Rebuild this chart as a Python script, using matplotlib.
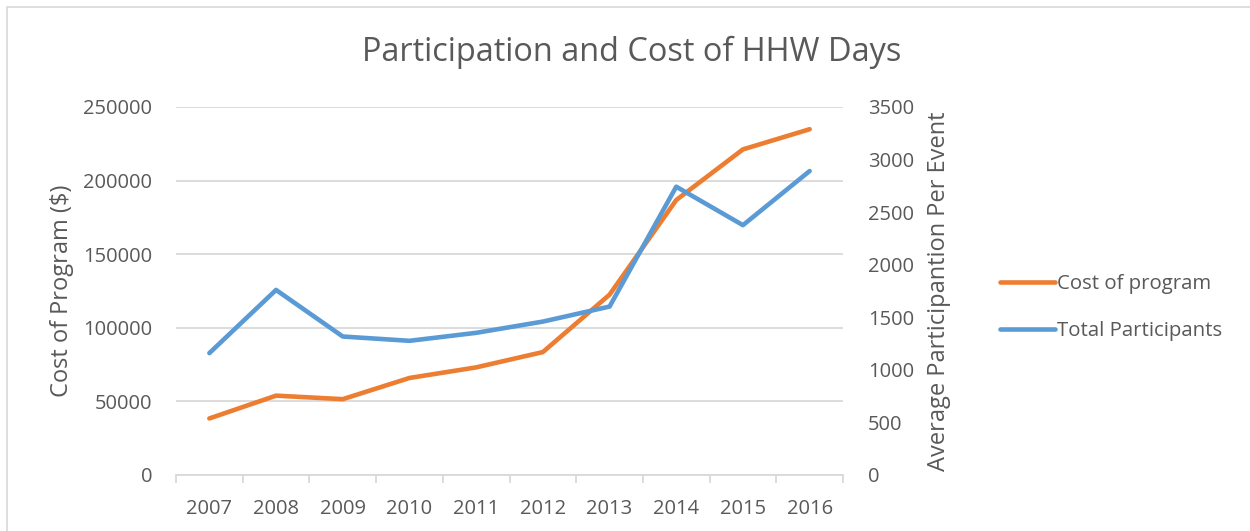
import matplotlib.pyplot as plt
from matplotlib.patches import Rectangle
from matplotlib.ticker import FixedLocator

plt.rcParams['font.family'] = ['Open Sans', 'DejaVu Sans']

years = ['2007', '2008', '2009', '2010', '2011', '2012', '2013', '2014', '2015', '2016']
cost = [38400, 53900, 51500, 65900, 73100, 83500, 122500, 186800, 221200, 234900]
participants = [1159, 1760, 1317, 1276, 1352, 1459, 1602, 2742, 2376, 2891]

grey = '#595959'
grid = '#d9d9d9'
orange = '#ED7D31'
blue = '#5B9BD5'

fig = plt.figure(figsize=(12.5, 5.31), dpi=100)
ax = fig.add_axes([0.1408, 0.1055, 0.5336, 0.693])
ax2 = ax.twinx()

x = list(range(len(years)))
l1, = ax.plot(x, cost, color=orange, lw=3.3, solid_capstyle='round', zorder=3)
l2, = ax2.plot(x, participants, color=blue, lw=3.3, solid_capstyle='round', zorder=3)

ax.set_xlim(-0.5, len(years) - 0.5)
ax.set_ylim(0, 250000)
ax2.set_ylim(0, 3500)
ax.set_yticks(range(0, 250001, 50000))
ax2.set_yticks(range(0, 3501, 500))
ax.yaxis.grid(True, color=grid, lw=1.3)
ax.set_axisbelow(True)

ax.set_xticks(x)
ax.set_xticklabels(years)
ax.xaxis.set_minor_locator(FixedLocator([i - 0.5 for i in range(len(years) + 1)]))
ax.tick_params(axis='x', which='major', length=0, pad=17, labelsize=14.5, labelcolor=grey)
ax.tick_params(axis='x', which='minor', length=6, color=grid, width=1.3)
ax.tick_params(axis='y', length=0, pad=17, labelsize=14.5, labelcolor=grey)
ax2.tick_params(axis='y', length=0, pad=18, labelsize=14.5, labelcolor=grey)

for a in (ax, ax2):
    for s in ('top', 'left', 'right'):
        a.spines[s].set_visible(False)
    a.spines['bottom'].set_color(grid)
    a.spines['bottom'].set_linewidth(1.3)
ax2.spines['bottom'].set_visible(False)

ax.set_ylabel('Cost of Program ($)', fontsize=17, color=grey, labelpad=7)
ax2.set_ylabel('Average Participantion Per Event', fontsize=17, color=grey, labelpad=9)

fig.text(0.505, 0.902, 'Participation and Cost of HHW Days', ha='center', va='center',
         fontsize=23.4, color=grey)

fig.legend([l1, l2], ['Cost of program', 'Total Participants'], loc='center left',
           bbox_to_anchor=(0.785, 0.421), frameon=False, fontsize=14.7, labelcolor=grey,
           handlelength=2.7, handletextpad=0.1, labelspacing=1.3)

fig.patches.append(Rectangle((0.0056, -0.05), 1.1, 1.037, transform=fig.transFigure,
                             fill=False, edgecolor=grid, lw=1.2))

fig.savefig('out.png', dpi=100)
